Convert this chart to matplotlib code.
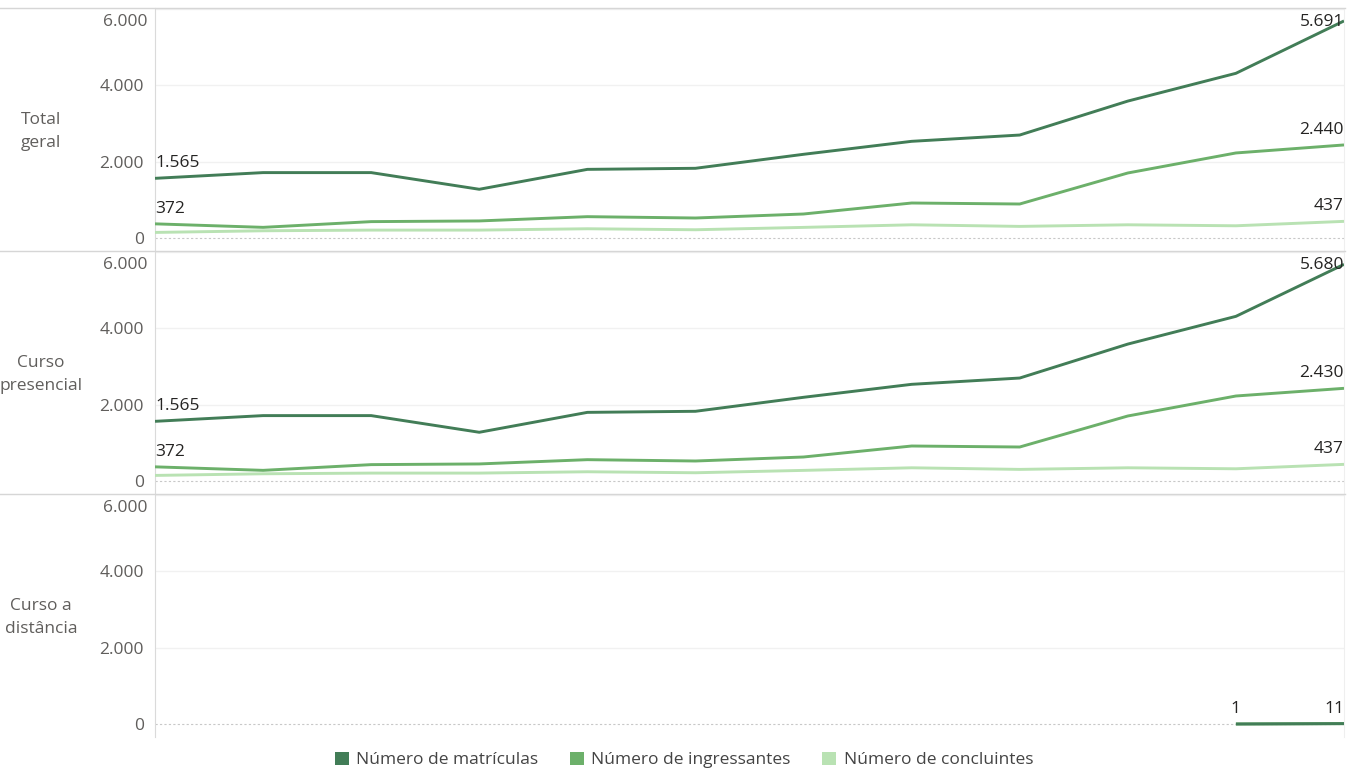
import numpy as np
import matplotlib
matplotlib.use("Agg")
import matplotlib.pyplot as plt
from matplotlib.patches import Patch
from matplotlib.lines import Line2D
from matplotlib.ticker import FuncFormatter

plt.rcParams['font.family'] = ['Open Sans', 'DejaVu Sans']

#%% Data (12 periods, no x labels shown)
nan = np.nan
paineis = ['Total\ngeral', 'Curso\npresencial', 'Curso a\ndistância']
series = ['Número de matrículas', 'Número de ingressantes', 'Número de concluintes']

total_matriculas = [1565, 1715, 1715, 1278, 1800, 1828, 2195, 2535, 2700, 3590, 4318, 5691]
total_ingressantes = [372, 280, 430, 448, 560, 525, 630, 918, 892, 1705, 2230, 2440]
total_concluintes = [147, 190, 208, 208, 243, 217, 279, 347, 305, 347, 321, 437]

pres_matriculas = [1565, 1715, 1715, 1278, 1800, 1828, 2195, 2535, 2700, 3590, 4317, 5680]
pres_ingressantes = [372, 280, 430, 448, 560, 525, 630, 918, 892, 1705, 2229, 2430]
pres_concluintes = [147, 190, 208, 208, 243, 217, 279, 347, 305, 347, 321, 437]

dist_matriculas = [nan, nan, nan, nan, nan, nan, nan, nan, nan, nan, 1, 11]
dist_ingressantes = [nan, nan, nan, nan, nan, nan, nan, nan, nan, nan, 1, 10]
dist_concluintes = [nan] * 12

dados = [
    [total_matriculas, total_ingressantes, total_concluintes],
    [pres_matriculas, pres_ingressantes, pres_concluintes],
    [dist_matriculas, dist_ingressantes, dist_concluintes],
]
# which points carry a data label: (series index, point index)
rotulos = [
    [(0, 0), (0, 11), (1, 0), (1, 11), (2, 11)],
    [(0, 0), (0, 11), (1, 0), (1, 11), (2, 11)],
    [(0, 10), (0, 11)],
]

cores = ['#427D57', '#6CB06A', '#B9E2B3']
cinza = '#605E5C'
escuro = '#252423'
linha_sep = '#D6D6D6'
fs = 12.5

fmt = lambda v: f"{v:,.0f}".replace(",", ".")

#%% Figure
W, H = 1358, 769
fig = plt.figure(figsize=(W / 100, H / 100), dpi=100)

left, right = 155, 1344
tops = [8, 251, 494]
ph = 243
ylo, yhi = -340, 6030

for p in range(3):
    top = tops[p]
    ax = fig.add_axes([left / W, 1 - (top + ph) / H, (right - left) / W, ph / H])
    x = np.arange(len(dados[p][0]))
    for s in [2, 1, 0]:
        ax.plot(x, dados[p][s], color=cores[s], lw=2.1, solid_capstyle='butt', zorder=3)

    ax.set_xlim(0, len(x) - 1)
    ax.set_ylim(ylo, yhi)
    ax.set_xticks([])
    ax.set_yticks([0, 2000, 4000])
    ax.yaxis.set_major_formatter(FuncFormatter(lambda v, pos: fmt(v)))
    ax.tick_params(axis='y', length=0, pad=8, labelsize=fs, labelcolor=cinza)
    for g in [2000, 4000, 6000]:
        ax.axhline(g, color='#F1F1F1', lw=1, zorder=1)
    ax.axhline(0, color='#C8C8C8', lw=0.8, ls=(0, (2, 2)), zorder=1)
    ax.annotate(fmt(6000), xy=(0, 1 - 14 / ph), xycoords='axes fraction',
                xytext=(-8, 0), textcoords='offset pixels', ha='right', va='center',
                fontsize=fs, color=cinza)

    for sp in ['top', 'bottom']:
        ax.spines[sp].set_visible(False)
    ax.spines['left'].set_color('#DADADA')
    ax.spines['right'].set_color('#EFEFEF')

    # data labels
    ppd = ph / (yhi - ylo)
    for s, i in rotulos[p]:
        v = dados[p][s][i]
        ha = 'left' if i == 0 else ('right' if i == len(x) - 1 else 'center')
        if (v - ylo) * ppd + 15 > ph - 14:
            ax.annotate(fmt(v), xy=(i, 1 - 14 / ph), xycoords=ax.get_xaxis_transform(),
                        ha=ha, va='center', fontsize=fs, color=escuro, zorder=4)
        else:
            ax.annotate(fmt(v), xy=(i, v), xytext=(0, 15), textcoords='offset pixels',
                        ha=ha, va='center', fontsize=fs, color=escuro, zorder=4)

    # row label
    fig.text(41 / W, 1 - (top + ph / 2 + 2) / H, paineis[p], ha='center', va='center',
             fontsize=fs, color=cinza, linespacing=1.55)

# panel separators
for top in tops:
    fig.add_artist(Line2D([0, 1345 / W], [1 - top / H, 1 - top / H],
                          transform=fig.transFigure, color=linha_sep, lw=1))

handles = [Patch(facecolor=c, edgecolor='none') for c in cores]
fig.legend(handles, series, loc='center', bbox_to_anchor=(684 / W, 1 - 760 / H),
           ncol=3, frameon=False, fontsize=fs, labelcolor='#444444',
           handlelength=0.8, handleheight=0.8, handletextpad=0.45, columnspacing=1.8,
           borderpad=0)

fig.savefig('out.png', dpi=100)
